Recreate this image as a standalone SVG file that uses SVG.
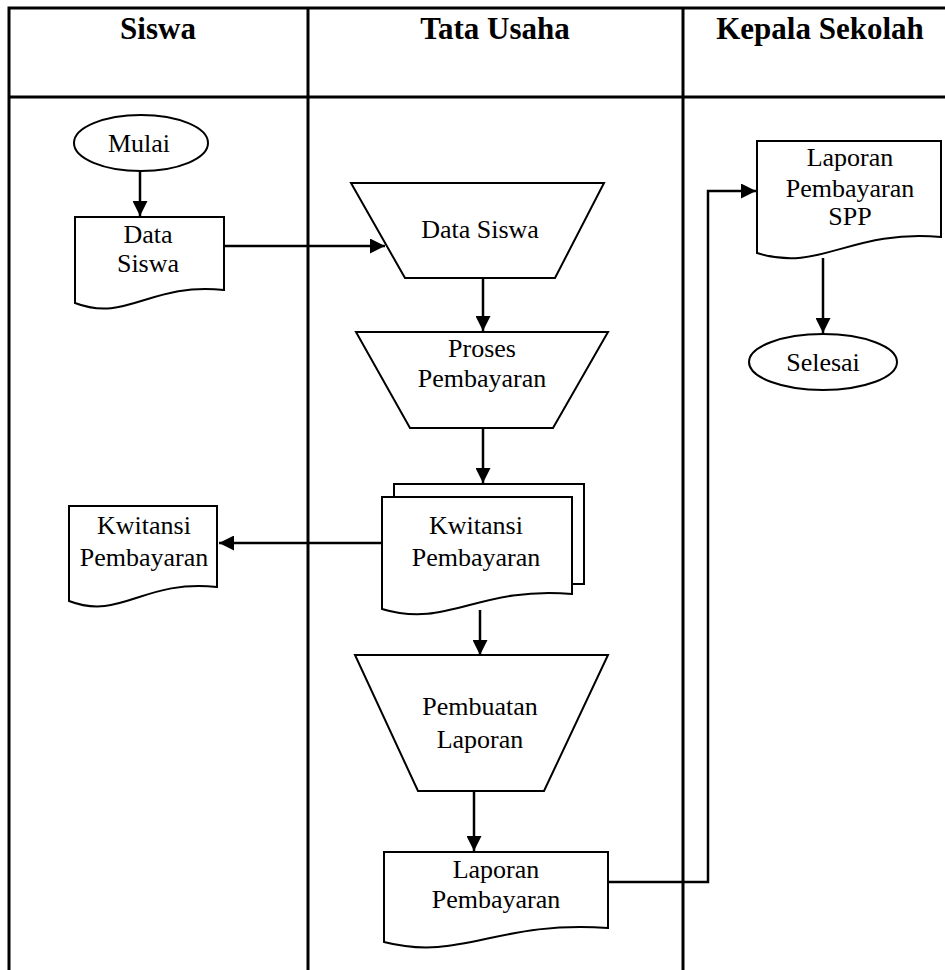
<svg xmlns="http://www.w3.org/2000/svg" width="945" height="970" viewBox="0 0 945 970">
<defs>
<marker id="arr" viewBox="0 0 10 10" refX="10" refY="5" markerWidth="15" markerHeight="15" markerUnits="userSpaceOnUse" orient="auto">
<path d="M0,0 L10,5 L0,10 Z" fill="#000"/>
</marker>
</defs>
<style>
.lane{stroke:#000;stroke-width:3;fill:none}
.shape{fill:#fff;stroke:#000;stroke-width:2}
.conn{fill:none;stroke:#000;stroke-width:2.5;marker-end:url(#arr)}
.hd{font-family:"Liberation Serif","Times New Roman",serif;font-weight:bold;font-size:31px;text-anchor:middle;fill:#000}
.tx{font-family:"Liberation Serif","Times New Roman",serif;font-size:26px;text-anchor:middle;fill:#000}
</style>
<rect width="945" height="970" fill="#fff"/>
<g id="lanes">
<path class="lane" d="M9,970 V8 H945 M9,97 H945 M308,8 V970 M683,8 V970"/>
<text class="hd" x="158" y="39">Siswa</text>
<text class="hd" x="495" y="39">Tata Usaha</text>
<text class="hd" x="820" y="39">Kepala Sekolah</text>
</g>
<g id="connectors">
<path class="conn" d="M140,172 V216"/>
<path class="conn" d="M224,246 H385"/>
<path class="conn" d="M483,278 V331"/>
<path class="conn" d="M483,428 V483"/>
<path class="conn" d="M382,543 H219"/>
<path class="conn" d="M480,610 V655"/>
<path class="conn" d="M474,791 V851"/>
<path class="conn" d="M608,882 H708 V191 H756"/>
<path class="conn" d="M823,258 V333"/>
</g>
<g id="mulai">
<ellipse class="shape" cx="141" cy="143" rx="67" ry="28"/>
<text class="tx" x="139" y="152">Mulai</text>
</g>
<g id="doc-data-siswa">
<path class="shape" d="M75,303 V217 H224 V290 C150,282 127,323 75,303 Z"/>
<text class="tx" x="148" y="243">Data</text>
<text class="tx" x="148" y="272">Siswa</text>
</g>
<g id="input-data-siswa">
<path class="shape" d="M351,183 H604 L555,278 H405 Z"/>
<text class="tx" x="480" y="238">Data Siswa</text>
</g>
<g id="proses-pembayaran">
<path class="shape" d="M356,332 H608 L553,428 H410 Z"/>
<text class="tx" x="482" y="357">Proses</text>
<text class="tx" x="482" y="387">Pembayaran</text>
</g>
<g id="kwitansi-multi">
<path class="shape" d="M394,497 V484 H584 V584 H572"/>
<path class="shape" d="M382,609 V497 H572 V594 C477,586 448,629 382,609 Z"/>
<text class="tx" x="476" y="534">Kwitansi</text>
<text class="tx" x="476" y="566">Pembayaran</text>
</g>
<g id="kwitansi-siswa">
<path class="shape" d="M69,601 V506 H217 V587 C143,579 121,621 69,601 Z"/>
<text class="tx" x="144" y="534">Kwitansi</text>
<text class="tx" x="144" y="566">Pembayaran</text>
</g>
<g id="pembuatan-laporan">
<path class="shape" d="M355,655 H608 L544,791 H418 Z"/>
<text class="tx" x="480" y="715">Pembuatan</text>
<text class="tx" x="480" y="748">Laporan</text>
</g>
<g id="laporan-pembayaran">
<path class="shape" d="M384,942 V852 H608 V928 C496,920 462,962 384,942 Z"/>
<text class="tx" x="496" y="878">Laporan</text>
<text class="tx" x="496" y="908">Pembayaran</text>
</g>
<g id="laporan-spp">
<path class="shape" d="M757,253 V141 H941 V237 C849,229 821,273 757,253 Z"/>
<text class="tx" x="850" y="166">Laporan</text>
<text class="tx" x="850" y="197">Pembayaran</text>
<text class="tx" x="850" y="225">SPP</text>
</g>
<g id="selesai">
<ellipse class="shape" cx="823" cy="362" rx="74" ry="28"/>
<text class="tx" x="823" y="371">Selesai</text>
</g>
</svg>
